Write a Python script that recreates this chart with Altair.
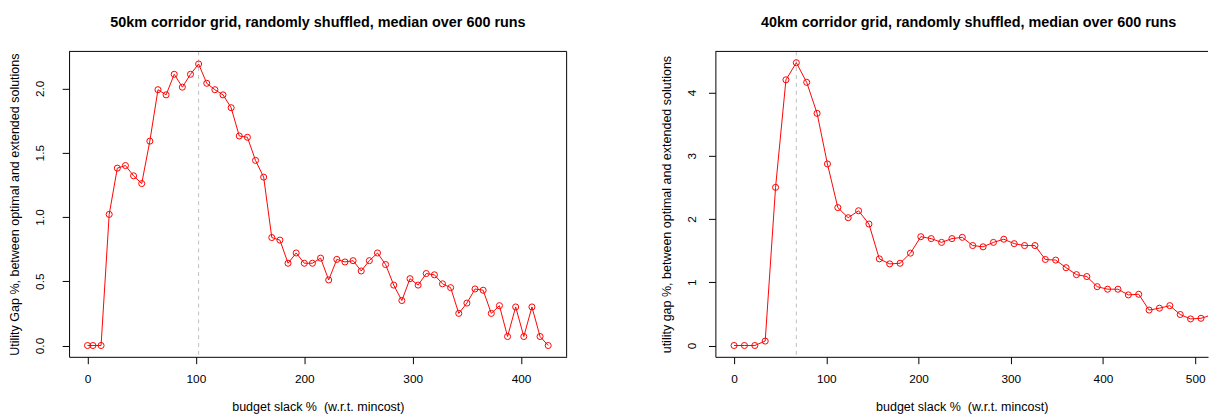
import altair as alt
import pandas as pd

# ---------------- data ----------------
slack_50 = [0, 5, 12.5, 20, 27.5, 35, 42.5, 50, 57.5, 65, 72.5, 80, 87.5, 95,
            102.5, 110, 117.5, 125, 132.5, 140, 147.5, 155, 162.5, 170, 177.5,
            185, 192.5, 200, 207.5, 215, 222.5, 230, 237.5, 245, 252.5, 260,
            267.5, 275, 282.5, 290, 297.5, 305, 312.5, 320, 327.5, 335, 342.5,
            350, 357.5, 365, 372.5, 380, 387.5, 395, 402.5, 410, 417.5, 425]
gap_50 = [0.0, 0.0, 0.0, 1.02, 1.38, 1.40, 1.32, 1.26, 1.59, 1.99, 1.95, 2.11,
          2.01, 2.11, 2.19, 2.04, 1.99, 1.95, 1.85, 1.63, 1.62, 1.44, 1.31,
          0.84, 0.82, 0.64, 0.72, 0.64, 0.64, 0.68, 0.51, 0.67, 0.65, 0.66,
          0.58, 0.66, 0.72, 0.63, 0.47, 0.35, 0.52, 0.47, 0.56, 0.55, 0.48,
          0.45, 0.25, 0.33, 0.44, 0.43, 0.25, 0.31, 0.07, 0.30, 0.07, 0.30,
          0.07, 0.0]

slack_40 = [0, 11.25, 22.5, 33.75, 45, 56.25, 67.5, 78.75, 90, 101.25, 112.5,
            123.75, 135, 146.25, 157.5, 168.75, 180, 191.25, 202.5, 213.75,
            225, 236.25, 247.5, 258.75, 270, 281.25, 292.5, 303.75, 315,
            326.25, 337.5, 348.75, 360, 371.25, 382.5, 393.75, 405, 416.25,
            427.5, 438.75, 450, 461.25, 472.5, 483.75, 495, 506.25, 517.5]
gap_40 = [0.0, 0.0, 0.0, 0.07, 2.50, 4.20, 4.47, 4.16, 3.67, 2.87, 2.18, 2.02,
          2.13, 1.92, 1.37, 1.29, 1.30, 1.46, 1.72, 1.69, 1.63, 1.69, 1.71,
          1.58, 1.56, 1.63, 1.68, 1.61, 1.58, 1.58, 1.36, 1.35, 1.23, 1.12,
          1.09, 0.93, 0.89, 0.89, 0.80, 0.81, 0.56, 0.59, 0.63, 0.49, 0.42,
          0.43, 0.48]

peak_50 = [102.5]
peak_40 = [67.5]

x_ticks_50 = [0, 100, 200, 300, 400]
x_ticks_40 = [0, 100, 200, 300, 400, 500]
y_ticks_50 = [0.0, 0.5, 1.0, 1.5, 2.0]
y_ticks_40 = [0, 1, 2, 3, 4]

title_50 = "50km corridor grid, randomly shuffled, median over 600 runs"
title_40 = "40km corridor grid, randomly shuffled, median over 600 runs"
ytitle_50 = "Utility Gap %, between optimal and extended solutions"
ytitle_40 = "utility gap %, between optimal and extended solutions"
xtitle = "budget slack %\u00a0 (w.r.t. mincost)"

FONT = "Liberation Sans"
RED = "#FF0000"
H = 310
LAB = 12
TIT = 12.7


def panel(xs, ys, peak, xdom, ydom, xticks, yticks, yfmt, ytitle, title,
          w, lab_pad, title_x, title_dx, right_border):
    df = pd.DataFrame({"slack": xs, "gap": ys})
    xsc = alt.Scale(domain=xdom, nice=False, zero=False)
    ysc = alt.Scale(domain=ydom, nice=False, zero=False)
    xax = alt.Axis(values=xticks, format="d", title=xtitle, grid=False,
                   tickSize=7, tickColor="black", domainColor="black",
                   labelFont=FONT, labelFontSize=LAB, labelColor="black",
                   labelPadding=10, labelFlush=False, labelOverlap=False,
                   titleFont=FONT, titleFontSize=TIT, titleFontWeight="normal",
                   titleColor="black", titleY=50, titleX=w / 2,
                   titleBaseline="middle", titleAlign="center")
    yax = alt.Axis(values=yticks, format=yfmt, title=ytitle, grid=False,
                   tickSize=7, tickColor="black", domainColor="black",
                   labelFont=FONT, labelFontSize=LAB, labelColor="black",
                   labelAngle=270, labelAlign="center", labelBaseline="middle",
                   labelPadding=lab_pad, labelFlush=False, labelOverlap=False,
                   titleFont=FONT, titleFontSize=TIT, titleFontWeight="normal",
                   titleColor="black", titleAngle=270, titleX=title_x,
                   titleY=H / 2, titleBaseline="middle", titleAlign="center")
    base = alt.Chart(df)
    line = base.mark_line(color=RED, strokeWidth=1, clip=True).encode(
        x=alt.X("slack:Q", scale=xsc, axis=xax),
        y=alt.Y("gap:Q", scale=ysc, axis=yax),
    )
    pts = base.mark_point(shape="circle", filled=False, color=RED, size=38,
                          strokeWidth=1, clip=True, opacity=1).encode(
        x=alt.X("slack:Q", scale=xsc), y=alt.Y("gap:Q", scale=ysc))
    vline = alt.Chart(pd.DataFrame({"slack": peak})).mark_rule(
        color="#BEBEBE", strokeDash=[4, 4], strokeWidth=1).encode(
        x=alt.X("slack:Q", scale=xsc))
    top = alt.Chart(pd.DataFrame({"a": [0]})).mark_rule(
        color="black", strokeWidth=1).encode(
        x=alt.value(0), x2=alt.value(w), y=alt.value(0))
    layers = [vline, line, pts, top]
    if right_border:
        right = alt.Chart(pd.DataFrame({"a": [0]})).mark_rule(
            color="black", strokeWidth=1).encode(
            x=alt.value(w), y=alt.value(0), y2=alt.value(H))
        layers.append(right)
    return alt.layer(*layers).properties(
        width=w, height=H,
        title=alt.TitleParams(title, font=FONT, fontSize=14.6,
                              fontWeight="bold", color="black",
                              anchor="middle", baseline="alphabetic",
                              offset=9.5, dx=title_dx),
    )


left = panel(slack_50, gap_50, peak_50, [-17, 442], [-0.088, 2.288],
             x_ticks_50, y_ticks_50, ".1f", ytitle_50, title_50,
             505, 23, -55.5, 0, True)
right = panel(slack_40, gap_40, peak_40, [-20.25, 513.9], [-0.179, 4.649],
              x_ticks_40, y_ticks_40, "d", ytitle_40, title_40,
              500, 17, -50, 7, False)

chart = alt.hconcat(left, right, spacing=151, bounds="flush").configure_view(
    stroke=None).properties(padding={"left": 0, "top": 4, "right": 0, "bottom": 0})

chart.save("out.html", embed_options={"renderer": "svg", "actions": False})
